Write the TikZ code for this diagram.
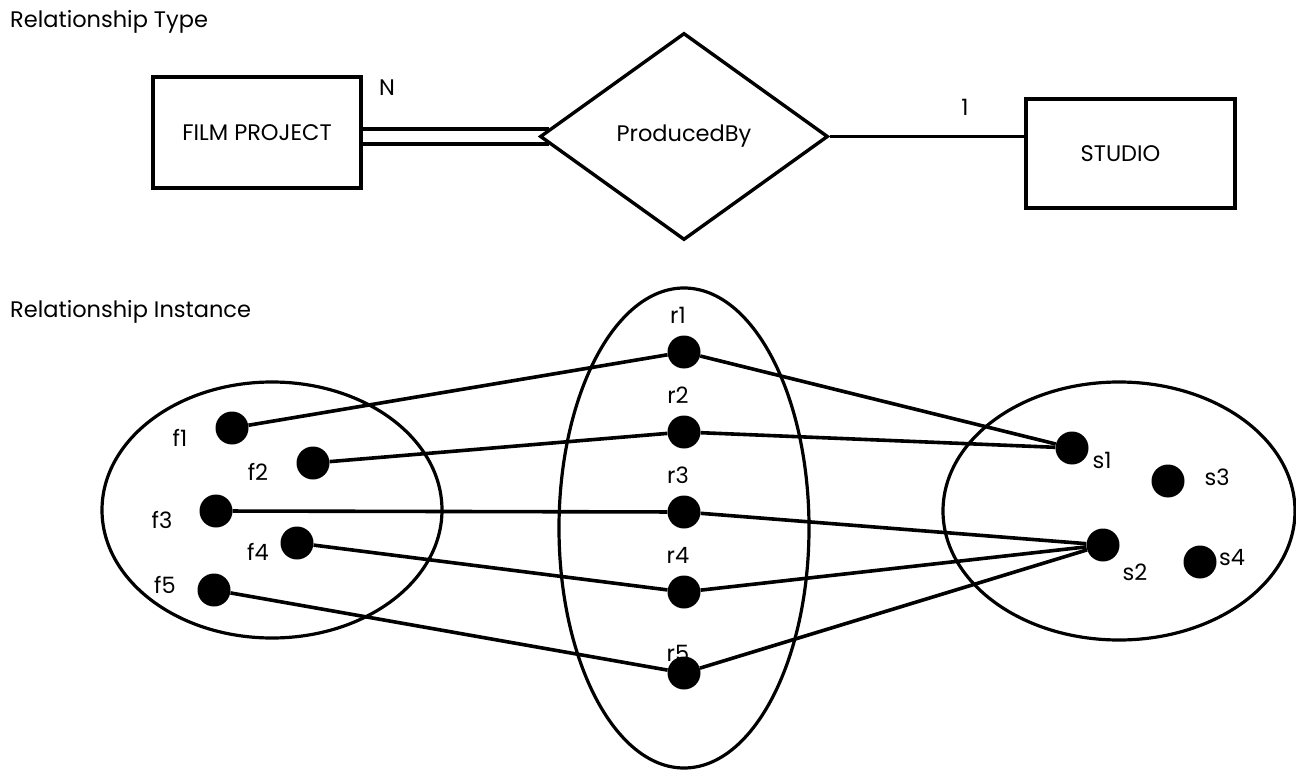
\documentclass[tikz,border=0pt]{standalone}
\usepackage{fontspec}
\setmainfont{Poppins}
\usetikzlibrary{shapes.geometric}

\tikzset{
  lbl/.style={font=\fontsize{22.5}{26}\selectfont, inner sep=0pt},
  entity/.style={draw, line width=3.4pt, inner sep=0pt, lbl},
  relship/.style={draw, diamond, line width=3.4pt, inner sep=0pt, fill=white, lbl},
  dot/.style={circle, fill=black, inner sep=0pt, minimum size=33pt},
  link/.style={line width=3.6pt},
  bag/.style={line width=3.2pt}
}

\begin{document}
\begin{tikzpicture}[x=1pt, y=-1pt]
    \useasboundingbox (0,0) rectangle (1296,770);

    % titles
    \node[lbl, anchor=west] (ttype) at (10,22) {Relationship Type};
    \node[lbl, anchor=west] (tinst) at (10,312) {Relationship Instance};

    % ER schema
    \node[entity, minimum width=208pt, minimum height=111pt] (film) at (257,132.5) {FILM PROJECT};
    \node[relship, minimum width=288pt, minimum height=207pt] (prod) at (684,136.5) {ProducedBy};
    \node[entity, minimum width=209pt, minimum height=109pt] (studio) at (1130.5,153.5) {\hspace*{-20pt}STUDIO};
    \node[lbl] (cardn) at (387,88) {N};
    \node[lbl] (card1) at (965,107) {1};

    % total participation (double line)
    \draw[link] ([yshift=7.5pt]prod.west -| film.east) -- ([shift={(10.5pt,7.5pt)}]prod.west);
    \draw[link] ([yshift=-7.5pt]prod.west -| film.east) -- ([shift={(10.5pt,-7.5pt)}]prod.west);
    \draw[link] (prod.east) -- (prod.east -| studio.west);

    % instance sets
    \draw[bag] (272,510) ellipse [x radius=170pt, y radius=128pt];
    \draw[bag] (684,528) ellipse [x radius=125pt, y radius=240pt];
    \draw[bag] (1119,511) ellipse [x radius=176pt, y radius=129pt];

    % film projects
    \node[dot] (f1) at (232,428) {};
    \node[dot] (f2) at (313,463) {};
    \node[dot] (f3) at (216,511) {};
    \node[dot] (f4) at (297,543) {};
    \node[dot] (f5) at (214,590) {};
    \node[lbl] at (180,438) {f1};
    \node[lbl] at (258,472) {f2};
    \node[lbl] at (162,520) {f3};
    \node[lbl] at (258,552) {f4};
    \node[lbl] at (165,585) {f5};

    % relationship instances
    \foreach \i/\y in {1/352, 2/432, 3/512, 4/592} {
        \node[dot] (r\i) at (684,\y) {};
        \node[lbl] at (678,\y-37) {r\i};
    }
    \node[dot] (r5) at (684,673) {};
    \node[lbl] at (678,653) {r5};

    % studios
    \node[dot] (s1) at (1072,448) {};
    \node[dot] (s2) at (1103,545) {};
    \node[dot] (s3) at (1168,481) {};
    \node[dot] (s4) at (1200,562) {};
    \node[lbl] at (1102,460) {s1};
    \node[lbl] at (1135,572) {s2};
    \node[lbl] at (1217,477) {s3};
    \node[lbl] at (1232,558) {s4};

    % links
    \foreach \i in {1,...,5} \draw[link] (f\i) -- (r\i);
    \draw[link] (r1) -- (s1);
    \draw[link] (r2) -- (s1);
    \draw[link] (r3) -- (s2);
    \draw[link] (r4) -- (s2);
    \draw[link] (r5) -- (s2);
\end{tikzpicture}
\end{document}
